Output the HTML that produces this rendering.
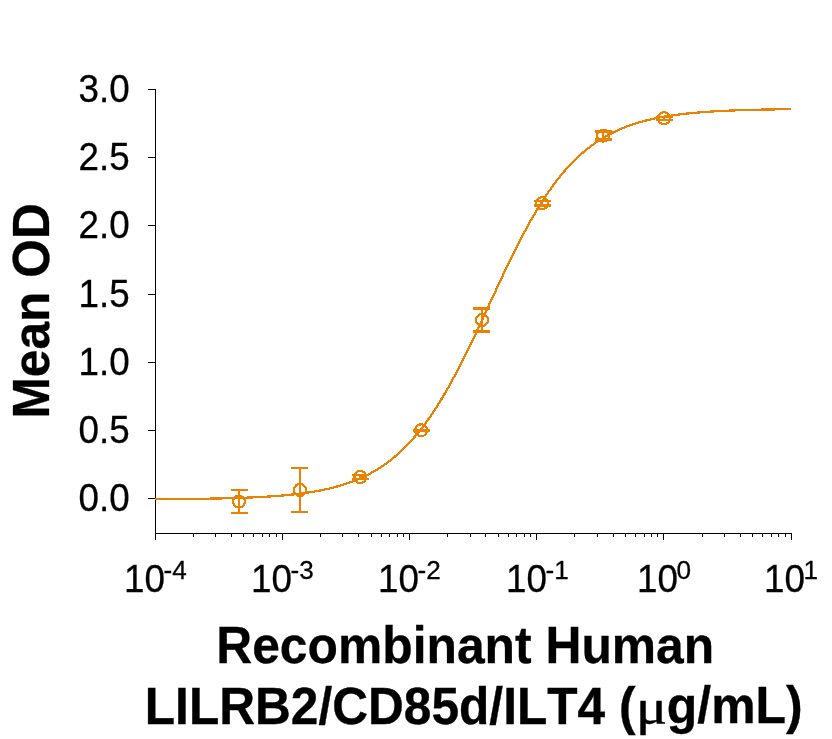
<!DOCTYPE html>
<html><head><meta charset="utf-8"><title>chart</title>
<style>
html,body{margin:0;padding:0;background:#fff;}
body{width:832px;height:739px;overflow:hidden;position:relative;}
svg{position:absolute;left:0;top:0;display:block;}
text{font-family:"Liberation Sans",Arial,sans-serif;fill:#000;font-kerning:none;stroke:#000;stroke-width:0.28px;}
.tk{font-size:37.33px;}
.xl{-webkit-text-stroke:0.28px #000;position:absolute;top:561.10px;font:37.33px/1 "Liberation Sans",Arial,sans-serif;color:#000;white-space:nowrap;font-kerning:none;transform-origin:0 31.60px;transform:scale(0.986,1.042);}
.xl sup{display:inline-block;font-size:24.9px;line-height:1;vertical-align:baseline;position:relative;top:-12.284px;margin-left:-1.217px;transform-origin:0 21.08px;transform:scale(1.06491,0.95969);}
.ttl{font-size:49.9px;font-weight:bold;}
.t2{position:absolute;left:0;top:0;width:832px;height:0;font-family:"Liberation Sans",Arial,sans-serif;font-weight:bold;color:#000;font-kerning:none;white-space:nowrap;}
.t2 span{-webkit-text-stroke:0.35px #000;position:absolute;line-height:1;white-space:pre;}
.t2 .a{left:144.8px;top:682.50px;font-size:49.62px;transform-origin:0 42.00px;transform:scale(1,1.05);}
.t2 .m{-webkit-text-stroke:0.5px #000;left:636.2px;top:681.61px;font:normal 50.5px/1 "Liberation Serif","DejaVu Serif",serif;transform-origin:0 42.29px;transform:scale(1.15,1);}
.t2 .c{right:29.40px;top:682.26px;font-size:49.9px;transform-origin:100% 42.24px;transform:scale(1,1.04);}
</style></head><body>
<svg width="832" height="739" viewBox="0 0 832 739">
<rect width="832" height="739" fill="#fff"/>
<g fill="#000" shape-rendering="crispEdges"><rect x="155" y="89" width="1" height="445"/><rect x="155" y="533" width="637" height="1"/><rect x="148" y="89" width="7" height="1"/><rect x="148" y="157" width="7" height="1"/><rect x="148" y="225" width="7" height="1"/><rect x="148" y="294" width="7" height="1"/><rect x="148" y="362" width="7" height="1"/><rect x="148" y="430" width="7" height="1"/><rect x="148" y="498" width="7" height="1"/><rect x="155" y="534" width="1" height="6"/><rect x="193" y="534" width="1" height="3"/><rect x="215" y="534" width="1" height="3"/><rect x="231" y="534" width="1" height="3"/><rect x="243" y="534" width="1" height="3"/><rect x="253" y="534" width="1" height="3"/><rect x="262" y="534" width="1" height="3"/><rect x="269" y="534" width="1" height="3"/><rect x="276" y="534" width="1" height="3"/><rect x="282" y="534" width="1" height="6"/><rect x="320" y="534" width="1" height="3"/><rect x="342" y="534" width="1" height="3"/><rect x="358" y="534" width="1" height="3"/><rect x="371" y="534" width="1" height="3"/><rect x="381" y="534" width="1" height="3"/><rect x="389" y="534" width="1" height="3"/><rect x="397" y="534" width="1" height="3"/><rect x="403" y="534" width="1" height="3"/><rect x="409" y="534" width="1" height="6"/><rect x="447" y="534" width="1" height="3"/><rect x="470" y="534" width="1" height="3"/><rect x="485" y="534" width="1" height="3"/><rect x="498" y="534" width="1" height="3"/><rect x="508" y="534" width="1" height="3"/><rect x="516" y="534" width="1" height="3"/><rect x="524" y="534" width="1" height="3"/><rect x="530" y="534" width="1" height="3"/><rect x="536" y="534" width="1" height="6"/><rect x="574" y="534" width="1" height="3"/><rect x="597" y="534" width="1" height="3"/><rect x="613" y="534" width="1" height="3"/><rect x="625" y="534" width="1" height="3"/><rect x="635" y="534" width="1" height="3"/><rect x="644" y="534" width="1" height="3"/><rect x="651" y="534" width="1" height="3"/><rect x="657" y="534" width="1" height="3"/><rect x="663" y="534" width="1" height="6"/><rect x="702" y="534" width="1" height="3"/><rect x="724" y="534" width="1" height="3"/><rect x="740" y="534" width="1" height="3"/><rect x="752" y="534" width="1" height="3"/><rect x="762" y="534" width="1" height="3"/><rect x="771" y="534" width="1" height="3"/><rect x="778" y="534" width="1" height="3"/><rect x="785" y="534" width="1" height="3"/><rect x="791" y="534" width="1" height="6"/></g>
<g fill="none" stroke="#EA8303" stroke-width="2.25" shape-rendering="crispEdges">
<polyline points="155.20,499.20 157.19,499.19 159.19,499.17 161.18,499.16 163.17,499.15 165.17,499.14 167.16,499.12 169.16,499.11 171.15,499.09 173.14,499.08 175.14,499.06 177.13,499.05 179.12,499.03 181.12,499.01 183.11,498.99 185.11,498.97 187.10,498.95 189.09,498.93 191.09,498.91 193.08,498.88 195.07,498.86 197.07,498.83 199.06,498.81 201.06,498.78 203.05,498.75 205.04,498.72 207.04,498.68 209.03,498.65 211.02,498.61 213.02,498.58 215.01,498.54 217.01,498.50 219.00,498.46 220.99,498.41 222.99,498.37 224.98,498.32 226.97,498.27 228.97,498.22 230.96,498.16 232.96,498.10 234.95,498.04 236.94,497.98 238.94,497.92 240.93,497.85 242.92,497.78 244.92,497.70 246.91,497.63 248.91,497.54 250.90,497.46 252.89,497.37 254.89,497.28 256.88,497.18 258.87,497.08 260.87,496.97 262.86,496.86 264.86,496.75 266.85,496.63 268.84,496.50 270.84,496.37 272.83,496.23 274.82,496.09 276.82,495.94 278.81,495.79 280.81,495.62 282.80,495.45 284.79,495.27 286.79,495.09 288.78,494.89 290.77,494.69 292.77,494.48 294.76,494.26 296.75,494.03 298.75,493.79 300.74,493.54 302.74,493.28 304.73,493.00 306.72,492.72 308.72,492.42 310.71,492.11 312.70,491.79 314.70,491.45 316.69,491.10 318.69,490.73 320.68,490.34 322.67,489.94 324.67,489.53 326.66,489.09 328.65,488.64 330.65,488.16 332.64,487.67 334.64,487.16 336.63,486.62 338.62,486.06 340.62,485.48 342.61,484.87 344.60,484.24 346.60,483.58 348.59,482.90 350.59,482.19 352.58,481.44 354.57,480.67 356.57,479.87 358.56,479.03 360.55,478.16 362.55,477.25 364.54,476.31 366.54,475.33 368.53,474.31 370.52,473.26 372.52,472.16 374.51,471.02 376.50,469.83 378.50,468.60 380.49,467.32 382.49,466.00 384.48,464.62 386.47,463.20 388.47,461.72 390.46,460.19 392.45,458.60 394.45,456.96 396.44,455.26 398.44,453.50 400.43,451.68 402.42,449.80 404.42,447.86 406.41,445.85 408.40,443.77 410.40,441.63 412.39,439.43 414.38,437.15 416.38,434.80 418.37,432.39 420.37,429.90 422.36,427.34 424.35,424.71 426.35,422.01 428.34,419.23 430.33,416.38 432.33,413.45 434.32,410.46 436.32,407.39 438.31,404.25 440.30,401.03 442.30,397.75 444.29,394.39 446.28,390.97 448.28,387.47 450.27,383.92 452.27,380.29 454.26,376.61 456.25,372.86 458.25,369.05 460.24,365.19 462.23,361.27 464.23,357.31 466.22,353.29 468.22,349.23 470.21,345.13 472.20,340.99 474.20,336.81 476.19,332.61 478.18,328.38 480.18,324.12 482.17,319.84 484.17,315.55 486.16,311.25 488.15,306.94 490.15,302.63 492.14,298.32 494.13,294.02 496.13,289.72 498.12,285.44 500.12,281.18 502.11,276.93 504.10,272.72 506.10,268.53 508.09,264.38 510.08,260.27 512.08,256.19 514.07,252.16 516.07,248.18 518.06,244.24 520.05,240.36 522.05,236.54 524.04,232.77 526.03,229.06 528.03,225.42 530.02,221.84 532.02,218.32 534.01,214.87 536.00,211.50 538.00,208.19 539.99,204.95 541.98,201.78 543.98,198.69 545.97,195.67 547.96,192.72 549.96,189.84 551.95,187.04 553.95,184.31 555.94,181.66 557.93,179.07 559.93,176.56 561.92,174.12 563.91,171.75 565.91,169.45 567.90,167.22 569.90,165.06 571.89,162.96 573.88,160.93 575.88,158.97 577.87,157.07 579.86,155.23 581.86,153.45 583.85,151.73 585.85,150.06 587.84,148.46 589.83,146.91 591.83,145.41 593.82,143.97 595.81,142.58 597.81,141.24 599.80,139.95 601.80,138.70 603.79,137.50 605.78,136.34 607.78,135.23 609.77,134.16 611.76,133.13 613.76,132.14 615.75,131.18 617.75,130.26 619.74,129.38 621.73,128.53 623.73,127.72 625.72,126.93 627.71,126.18 629.71,125.46 631.70,124.76 633.70,124.10 635.69,123.46 637.68,122.84 639.68,122.25 641.67,121.69 643.66,121.14 645.66,120.62 647.65,120.12 649.65,119.64 651.64,119.18 653.63,118.74 655.63,118.32 657.62,117.91 659.61,117.52 661.61,117.15 663.60,116.79 665.59,116.45 667.59,116.12 669.58,115.80 671.58,115.50 673.57,115.21 675.56,114.94 677.56,114.67 679.55,114.42 681.54,114.17 683.54,113.94 685.53,113.71 687.53,113.50 689.52,113.29 691.51,113.10 693.51,112.91 695.50,112.73 697.49,112.56 699.49,112.39 701.48,112.23 703.48,112.08 705.47,111.94 707.46,111.80 709.46,111.66 711.45,111.54 713.44,111.41 715.44,111.30 717.43,111.18 719.43,111.08 721.42,110.97 723.41,110.88 725.41,110.78 727.40,110.69 729.39,110.61 731.39,110.52 733.38,110.44 735.38,110.37 737.37,110.30 739.36,110.23 741.36,110.16 743.35,110.10 745.34,110.04 747.34,109.98 749.33,109.92 751.33,109.87 753.32,109.82 755.31,109.77 757.31,109.72 759.30,109.68 761.29,109.64 763.29,109.60 765.28,109.56 767.28,109.52 769.27,109.48 771.26,109.45 773.26,109.42 775.25,109.38 777.24,109.35 779.24,109.33 781.23,109.30 783.23,109.27 785.22,109.25 787.21,109.22 789.21,109.20 791.20,109.18"/>
<circle cx="239.00" cy="501.60" r="6"/>
<path d="M239.00 490.10V513.10M230.50 490.10H247.50M230.50 513.10H247.50"/>
<circle cx="300.00" cy="489.90" r="6"/>
<path d="M300.00 467.90V511.90M290.70 467.90H307.70M290.70 511.90H307.70"/>
<circle cx="360.30" cy="477.00" r="6"/>
<path d="M360.30 475.30V478.70M351.80 475.30H368.80M351.80 478.70H368.80"/>
<circle cx="421.20" cy="430.30" r="6"/>
<path d="M421.20 429.70V430.90M412.70 429.70H429.70M412.70 430.90H429.70"/>
<circle cx="482.10" cy="320.00" r="6"/>
<path d="M482.10 308.50V331.50M473.10 308.50H490.10M473.10 331.50H490.10"/>
<circle cx="542.20" cy="203.20" r="6"/>
<path d="M542.20 200.80V205.60M533.70 200.80H550.70M533.70 205.60H550.70"/>
<circle cx="603.10" cy="135.60" r="6"/>
<path d="M603.10 131.60V139.60M594.60 131.60H611.60M594.60 139.60H611.60"/>
<circle cx="664.00" cy="118.20" r="6"/>
<path d="M664.00 116.70V119.70M655.50 116.70H672.50M655.50 119.70H672.50"/>
</g>
<text transform="translate(129.7 102.00) scale(0.986 1.042)" text-anchor="end" class="tk">3.0</text>
<text transform="translate(129.7 170.00) scale(0.986 1.042)" text-anchor="end" class="tk">2.5</text>
<text transform="translate(129.7 238.00) scale(0.986 1.042)" text-anchor="end" class="tk">2.0</text>
<text transform="translate(129.7 307.00) scale(0.986 1.042)" text-anchor="end" class="tk">1.5</text>
<text transform="translate(129.7 375.00) scale(0.986 1.042)" text-anchor="end" class="tk">1.0</text>
<text transform="translate(129.7 443.00) scale(0.986 1.042)" text-anchor="end" class="tk">0.5</text>
<text transform="translate(129.7 511.00) scale(0.986 1.042)" text-anchor="end" class="tk">0.0</text>
<text class="ttl" text-anchor="middle" transform="translate(465.2 663.3) scale(0.998 1.028)">Recombinant Human</text>
<text class="ttl" text-anchor="middle" transform="translate(49.3 310.9) rotate(-90) scale(0.996 1.04)">Mean OD</text>
</svg>
<div class="xl" style="left:123.97px">10<sup>-4</sup></div>
<div class="xl" style="left:251.17px">10<sup>-3</sup></div>
<div class="xl" style="left:378.37px">10<sup>-2</sup></div>
<div class="xl" style="left:505.57px">10<sup>-1</sup></div>
<div class="xl" style="left:636.91px">10<sup>0</sup></div>
<div class="xl" style="left:764.11px">10<sup>1</sup></div>
<div class="t2"><span class="a">LILRB2/CD85d/ILT4 (</span><span class="m">μ</span><span class="c">g/mL)</span></div>
</body></html>
